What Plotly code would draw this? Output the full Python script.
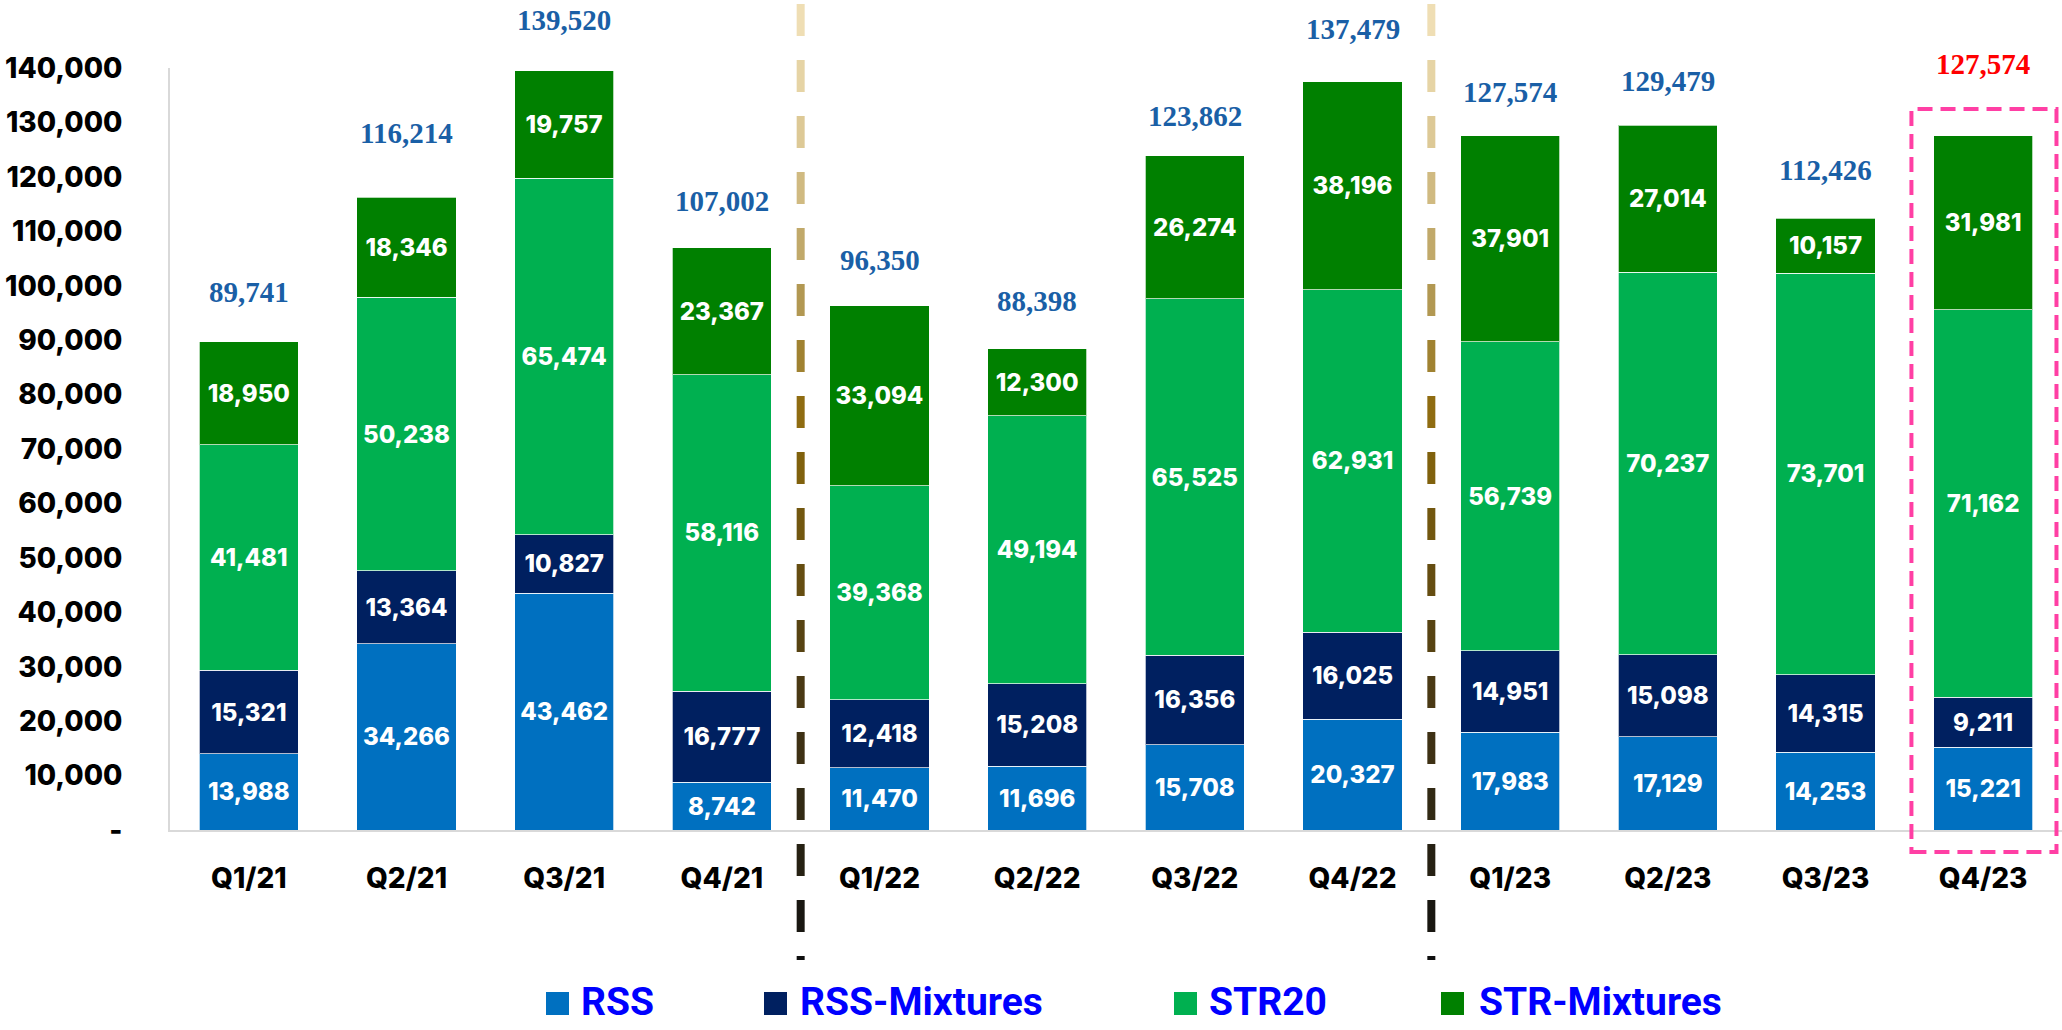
import plotly.graph_objects as go

# ---------------- data ----------------
quarters = ["Q1/21", "Q2/21", "Q3/21", "Q4/21", "Q1/22", "Q2/22",
            "Q3/22", "Q4/22", "Q1/23", "Q2/23", "Q3/23", "Q4/23"]
rss = [13988, 34266, 43462, 8742, 11470, 11696, 15708, 20327, 17983, 17129, 14253, 15221]
rss_mixtures = [15321, 13364, 10827, 16777, 12418, 15208, 16356, 16025, 14951, 15098, 14315, 9211]
str20 = [41481, 50238, 65474, 58116, 39368, 49194, 65525, 62931, 56739, 70237, 73701, 71162]
str_mixtures = [18950, 18346, 19757, 23367, 33094, 12300, 26274, 38196, 37901, 27014, 10157, 31981]
totals = [89741, 116214, 139520, 107002, 96350, 88398, 123862, 137479, 127574, 129479, 112426, 127574]
series_names = ["RSS", "RSS-Mixtures", "STR20", "STR-Mixtures"]
y_ticks = [0, 10000, 20000, 30000, 40000, 50000, 60000, 70000, 80000, 90000,
           100000, 110000, 120000, 130000, 140000]

# ---------------- style ----------------
W, H = 2062, 1030
M_L, M_R, M_T, M_B = 170, 0, 68, 200
colors = ["#0070C0", "#002060", "#00B050", "#008000"]
TICK_FONT = dict(family="Inter, Roboto, sans-serif", size=28, color="#000000", weight=800)
BAR_FONT = dict(family="Inter, Roboto, sans-serif", size=24, color="#FFFFFF", weight=800)
TOTAL_FONT = dict(family="Liberation Serif, Times New Roman, serif", size=29, weight=700)
total_colors = ["#1A5FA6"] * (len(quarters) - 1) + ["#FF0000"]
total_lift_px = [50, 64, 51, 47, 46, 48, 40, 53, 44, 44, 48, 72]

plot_w = W - M_L - M_R
plot_h = H - M_T - M_B


def px_x(p):
    return (p - M_L) / plot_w


def px_y(p):
    return (H - M_B - p) / plot_h


fig = go.Figure()
for name, vals, col in zip(series_names, [rss, rss_mixtures, str20, str_mixtures], colors):
    fig.add_trace(go.Bar(
        x=quarters, y=vals, name=name,
        marker=dict(color=col, line=dict(color="rgba(255,255,255,0.7)", width=1)),
        texttemplate="%{y:,}", textposition="inside", insidetextanchor="middle",
        textangle=0, textfont=BAR_FONT, constraintext="none",
        showlegend=False,
    ))

# total labels above the stacks
for q, t, c, lift in zip(quarters, totals, total_colors, total_lift_px):
    fig.add_annotation(x=q, y=t, text=f"{t:,}", showarrow=False, yshift=lift,
                       yanchor="middle", font=dict(**TOTAL_FONT, color=c))

# gradient dashed year separators
stops = [(0, (242, 226, 185)), (150, (218, 198, 145)), (300, (178, 152, 82)),
         (420, (140, 105, 12)), (550, (108, 82, 16)), (700, (72, 56, 20)),
         (830, (45, 38, 20)), (960, (15, 15, 15))]


def grad(p):
    for (a, ca), (b, cb) in zip(stops[:-1], stops[1:]):
        if a <= p <= b:
            f = (p - a) / (b - a)
            return "rgb(%d,%d,%d)" % tuple(round(ca[i] + (cb[i] - ca[i]) * f) for i in range(3))
    return "rgb(15,15,15)"


for sep in [3.5, 7.5]:
    top = 4
    while top < 958:
        bot = min(top + 32, 960)
        fig.add_shape(type="line", xref="x", yref="paper", x0=sep, x1=sep,
                      y0=px_y(top), y1=px_y(bot),
                      line=dict(color=grad((top + bot) / 2), width=8))
        top += 56

# highlight box around last quarter
fig.add_shape(type="rect", xref="x", yref="paper", x0=10.545, x1=11.465,
              y0=px_y(852), y1=px_y(109),
              line=dict(color="#FF3FA4", width=4, dash="15px,8px"))

# legend (manual)
legend_marker_left = [546, 764, 1174, 1441]
legend_text_left = [579, 798, 1207, 1477]
LEG_Y = 1002
for name, col, mx, tx in zip(series_names, colors, legend_marker_left, legend_text_left):
    fig.add_shape(type="rect", xref="paper", yref="paper",
                  x0=px_x(mx), x1=px_x(mx + 23), y0=px_y(LEG_Y + 13), y1=px_y(LEG_Y - 10),
                  fillcolor=col, line=dict(width=0))
    fig.add_annotation(xref="paper", yref="paper", x=px_x(tx), y=px_y(LEG_Y),
                       xanchor="left", yanchor="middle", showarrow=False, text=name,
                       font=dict(family="Roboto, Arial, sans-serif", size=39,
                                 color="#0000FF", weight=700))

fig.update_layout(
    width=W, height=H,
    barmode="stack", bargap=0.372,
    margin=dict(l=M_L, r=M_R, t=M_T, b=M_B),
    plot_bgcolor="#FFFFFF", paper_bgcolor="#FFFFFF",
    showlegend=False,
    uniformtext=dict(mode=False),
)
fig.update_xaxes(showline=True, linecolor="#D9D9D9", linewidth=2, showgrid=False,
                 ticks="", tickfont=TICK_FONT, ticklabelstandoff=22,
                 range=[-0.5, 11.5])
fig.update_yaxes(range=[0, 140000], showline=True, linecolor="#D9D9D9", linewidth=2,
                 showgrid=False, zeroline=False, ticks="", tickfont=TICK_FONT,
                 tickvals=y_ticks,
                 ticktext=["-" if v == 0 else f"{v:,}" for v in y_ticks],
                 ticklabelstandoff=40)

fig.write_html("out.html", config={"displayModeBar": False},
               post_script="document.body.style.margin='0';document.body.style.overflow='hidden';")
